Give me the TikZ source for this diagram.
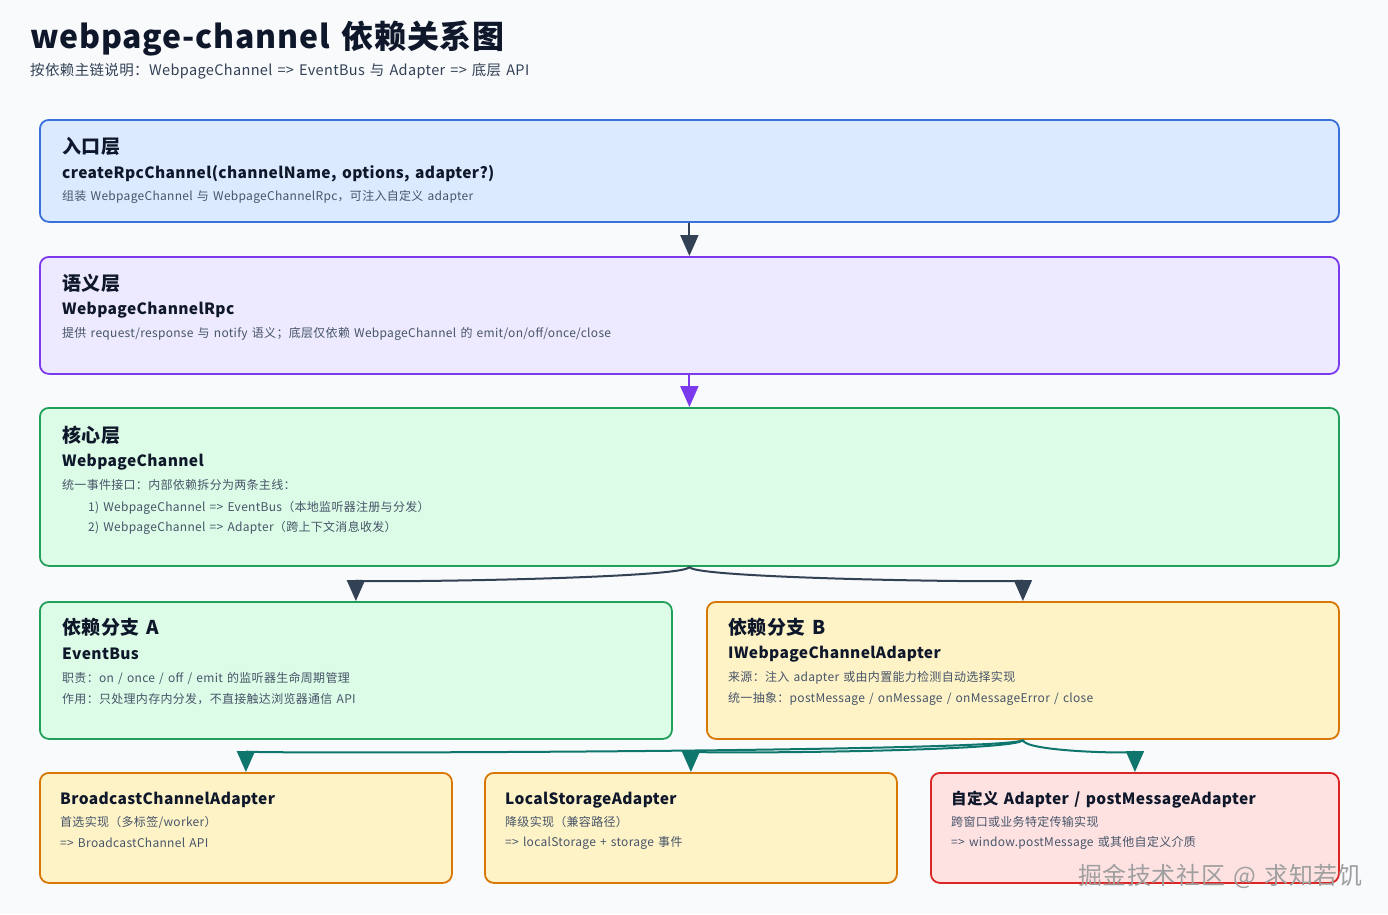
\documentclass[tikz,border=0pt]{standalone}
\usepackage{fontspec}
\setmainfont{Noto Sans CJK SC}[LetterSpace=2.5,WordSpace=1.4]
\usetikzlibrary{arrows.meta}
\definecolor{bgc}{HTML}{F8FAFC}
\definecolor{ink}{HTML}{0F172A}
\definecolor{sub}{HTML}{475569}
\definecolor{dk}{HTML}{334155}
\definecolor{blF}{HTML}{DBEAFE}\definecolor{blD}{HTML}{3B6FD9}
\definecolor{puF}{HTML}{EDE9FE}\definecolor{puD}{HTML}{7C3AED}
\definecolor{grF}{HTML}{DCFCE7}\definecolor{grD}{HTML}{22A05A}
\definecolor{yeF}{HTML}{FEF3C7}\definecolor{yeD}{HTML}{D97706}
\definecolor{reF}{HTML}{FEE2E2}\definecolor{reD}{HTML}{DC2626}
\definecolor{te}{HTML}{0F766E}
\tikzset{
 box/.style args={#1/#2/#3/#4}{draw=#1,fill=#2,line width=1.8pt,rounded corners=9pt,anchor=north west,minimum width=#3,minimum height=#4,inner sep=0pt},
 hd/.style={anchor=west,font=\fontsize{19}{22}\selectfont\bfseries,text=ink,inner sep=0pt},
 bd/.style={anchor=west,font=\fontsize{15.5}{18}\selectfont\bfseries,text=ink,inner sep=0pt},
 sm/.style={anchor=west,font=\fontsize{12}{14}\selectfont,text=sub,inner sep=0pt},
 ar/.style={line width=2pt,-{Triangle[width=18pt,length=21pt]}},
}
\begin{document}
\begin{tikzpicture}[x=1pt,y=-1pt]
\fill[bgc] (0,0) rectangle (1388,914);
\useasboundingbox (0,0) rectangle (1388,914);
\node[anchor=west,inner sep=0pt,font=\fontsize{32}{36}\selectfont\bfseries,text=ink] (title) at (30,38) {webpage-channel 依赖关系图};
\node[anchor=west,inner sep=0pt,font=\fontsize{14.5}{17}\selectfont,text=dk] (subt) at (30,71) {按依赖主链说明：WebpageChannel => EventBus 与 Adapter => 底层 API};

\node[box=blD/blF/1299pt/102pt] (b1) at (39,119) {};
\node[hd] (b1h) at (62,146) {入口层};
\node[bd] (b1b) at (62,174) {createRpcChannel(channelName, options, adapter?)};
\node[sm] (b1s) at (62,197) {组装 WebpageChannel 与 WebpageChannelRpc，可注入自定义 adapter};

\node[box=puD/puF/1299pt/117pt] (b2) at (39,256) {};
\node[hd] (b2h) at (62,283) {语义层};
\node[bd] (b2b) at (62,310) {WebpageChannelRpc};
\node[sm] (b2s) at (62,334) {提供 request/response 与 notify 语义；底层仅依赖 WebpageChannel 的 emit/on/off/once/close};

\node[box=grD/grF/1299pt/158pt] (b3) at (39,407) {};
\node[hd] (b3h) at (62,435) {核心层};
\node[bd] (b3b) at (62,462) {WebpageChannel};
\node[sm] (b3s1) at (62,485) {统一事件接口：内部依赖拆分为两条主线：};
\node[sm] (b3s2) at (88,508) {1) WebpageChannel => EventBus（本地监听器注册与分发）};
\node[sm] (b3s3) at (88,528) {2) WebpageChannel => Adapter（跨上下文消息收发）};

\node[box=grD/grF/632pt/137pt] (b4a) at (39,601) {};
\node[hd] (b4ah) at (62,627) {依赖分支 A};
\node[bd] (b4ab) at (62,654) {EventBus};
\node[sm] (b4as1) at (62,678) {职责：on / once / off / emit 的监听器生命周期管理};
\node[sm] (b4as2) at (62,699) {作用：只处理内存内分发，不直接触达浏览器通信 API};

\node[box=yeD/yeF/632pt/137pt] (b4b) at (706,601) {};
\node[hd] (b4bh) at (728,627) {依赖分支 B};
\node[bd] (b4bb) at (728,654) {IWebpageChannelAdapter};
\node[sm] (b4bs1) at (728,678) {来源：注入 adapter 或由内置能力检测自动选择实现};
\node[sm] (b4bs2) at (728,699) {统一抽象：postMessage / onMessage / onMessageError / close};

\node[box=yeD/yeF/412pt/110pt] (c1) at (39,772) {};
\node[bd] (c1b) at (60,800) {BroadcastChannelAdapter};
\node[sm] (c1s1) at (60,822) {首选实现（多标签/worker）};
\node[sm] (c1s2) at (60,843) {=> BroadcastChannel API};

\node[box=yeD/yeF/412pt/110pt] (c2) at (484,772) {};
\node[bd] (c2b) at (505,800) {LocalStorageAdapter};
\node[sm] (c2s1) at (505,822) {降级实现（兼容路径）};
\node[sm] (c2s2) at (505,843) {=> localStorage + storage 事件};

\node[box=reD/reF/408pt/110pt] (c3) at (930,772) {};
\node[bd] (c3b) at (951,800) {自定义 Adapter / postMessageAdapter};
\node[sm] (c3s1) at (951,822) {跨窗口或业务特定传输实现};
\node[sm] (c3s2) at (951,843) {=> window.postMessage 或其他自定义介质};

\draw[ar,dk] (b1.south) -- (b2.north);
\draw[ar,puD] (b2.south) -- (b3.north);
\draw[ar,dk] (b3.south) .. controls +(0,12) and +(0,-18) .. (b4a.north);
\draw[ar,dk] (b3.south) .. controls +(0,12) and +(0,-18) .. (b4b.north);
\draw[ar,te] (b4b.south) .. controls +(0,12) and +(0,-18) .. (c1.north);
\draw[ar,te] (b4b.south) .. controls +(0,12) and +(0,-18) .. (c2.north);
\draw[ar,te] (b4b.south) .. controls +(0,12) and +(0,-18) .. (c3.north);

\node[anchor=west,inner sep=0pt,font=\fontsize{24}{28}\selectfont,text=gray!75] (wm) at (1078,876) {掘金技术社区 @ 求知若饥};
\end{tikzpicture}
\end{document}
